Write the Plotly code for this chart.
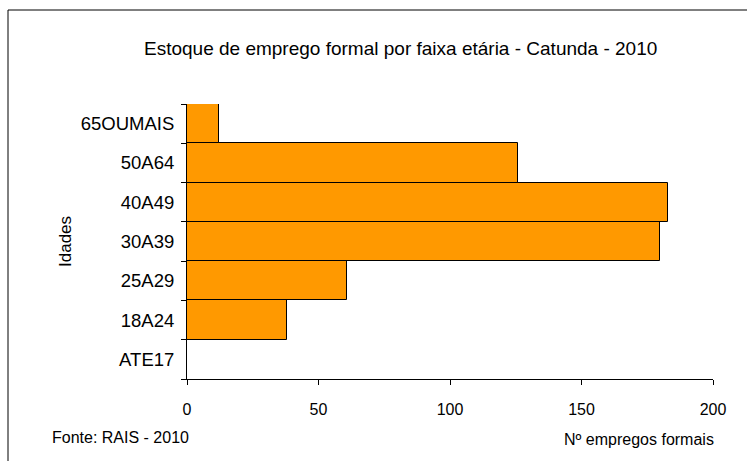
import plotly.graph_objects as go

categories = ["ATE17", "18A24", "25A29", "30A39", "40A49", "50A64", "65OUMAIS"]
values = [0, 38, 61, 180, 183, 126, 12]
x_ticks = [0, 50, 100, 150, 200]

W, H = 747, 461
L, R, T, B = 187, 713, 104, 379

def px(x):
    return (x - L) / (R - L)

def py(y):
    return (B - y) / (B - T)

FONT = "Liberation Sans, Arial, sans-serif"

fig = go.Figure(go.Bar(
    x=values, y=categories, orientation="h",
    marker=dict(color="#FF9900", line=dict(color="#000000", width=1)),
    hoverinfo="skip",
))

fig.update_layout(
    width=W, height=H,
    margin=dict(l=L, r=W - R, t=T, b=H - B),
    paper_bgcolor="white", plot_bgcolor="white",
    bargap=0, showlegend=False,
    font=dict(family=FONT, color="black"),
    xaxis=dict(range=[0, 200], tickvals=x_ticks, showgrid=False, zeroline=False,
               showline=True, linecolor="black", linewidth=1,
               ticks="outside", ticklen=5, tickcolor="black",
               tickfont=dict(size=16), ticklabelstandoff=11, fixedrange=True),
    yaxis=dict(type="category", categoryorder="array", categoryarray=categories,
               showgrid=False, zeroline=False, showline=True, linecolor="black",
               linewidth=1, ticks="outside", ticklen=5, tickcolor="black",
               tickson="boundaries", tickfont=dict(size=18.5), ticklabelstandoff=8,
               fixedrange=True),
    shapes=[dict(type="rect", xref="paper", yref="paper",
                 x0=px(8), x1=px(760), y0=py(470), y1=py(10),
                 line=dict(color="black", width=1), layer="below")],
    annotations=[
        dict(text="Estoque de emprego formal por faixa etária - Catunda - 2010",
             xref="paper", yref="paper", x=px(400), y=py(48), showarrow=False,
             xanchor="center", yanchor="middle", font=dict(size=19)),
        dict(text="Idades", xref="paper", yref="paper", x=px(65), y=py(242),
             showarrow=False, textangle=-90, xanchor="center", yanchor="middle",
             font=dict(size=17)),
        dict(text="Fonte: RAIS - 2010", xref="paper", yref="paper", x=px(50), y=py(437),
             showarrow=False, xanchor="left", yanchor="middle", font=dict(size=16)),
        dict(text="Nº empregos formais", xref="paper", yref="paper", x=px(716), y=py(439),
             showarrow=False, xanchor="right", yanchor="middle", font=dict(size=16)),
    ],
)

fig.write_html("out.html", config={"displayModeBar": False},
               post_script="document.body.style.margin='0';document.body.style.padding='0';")
